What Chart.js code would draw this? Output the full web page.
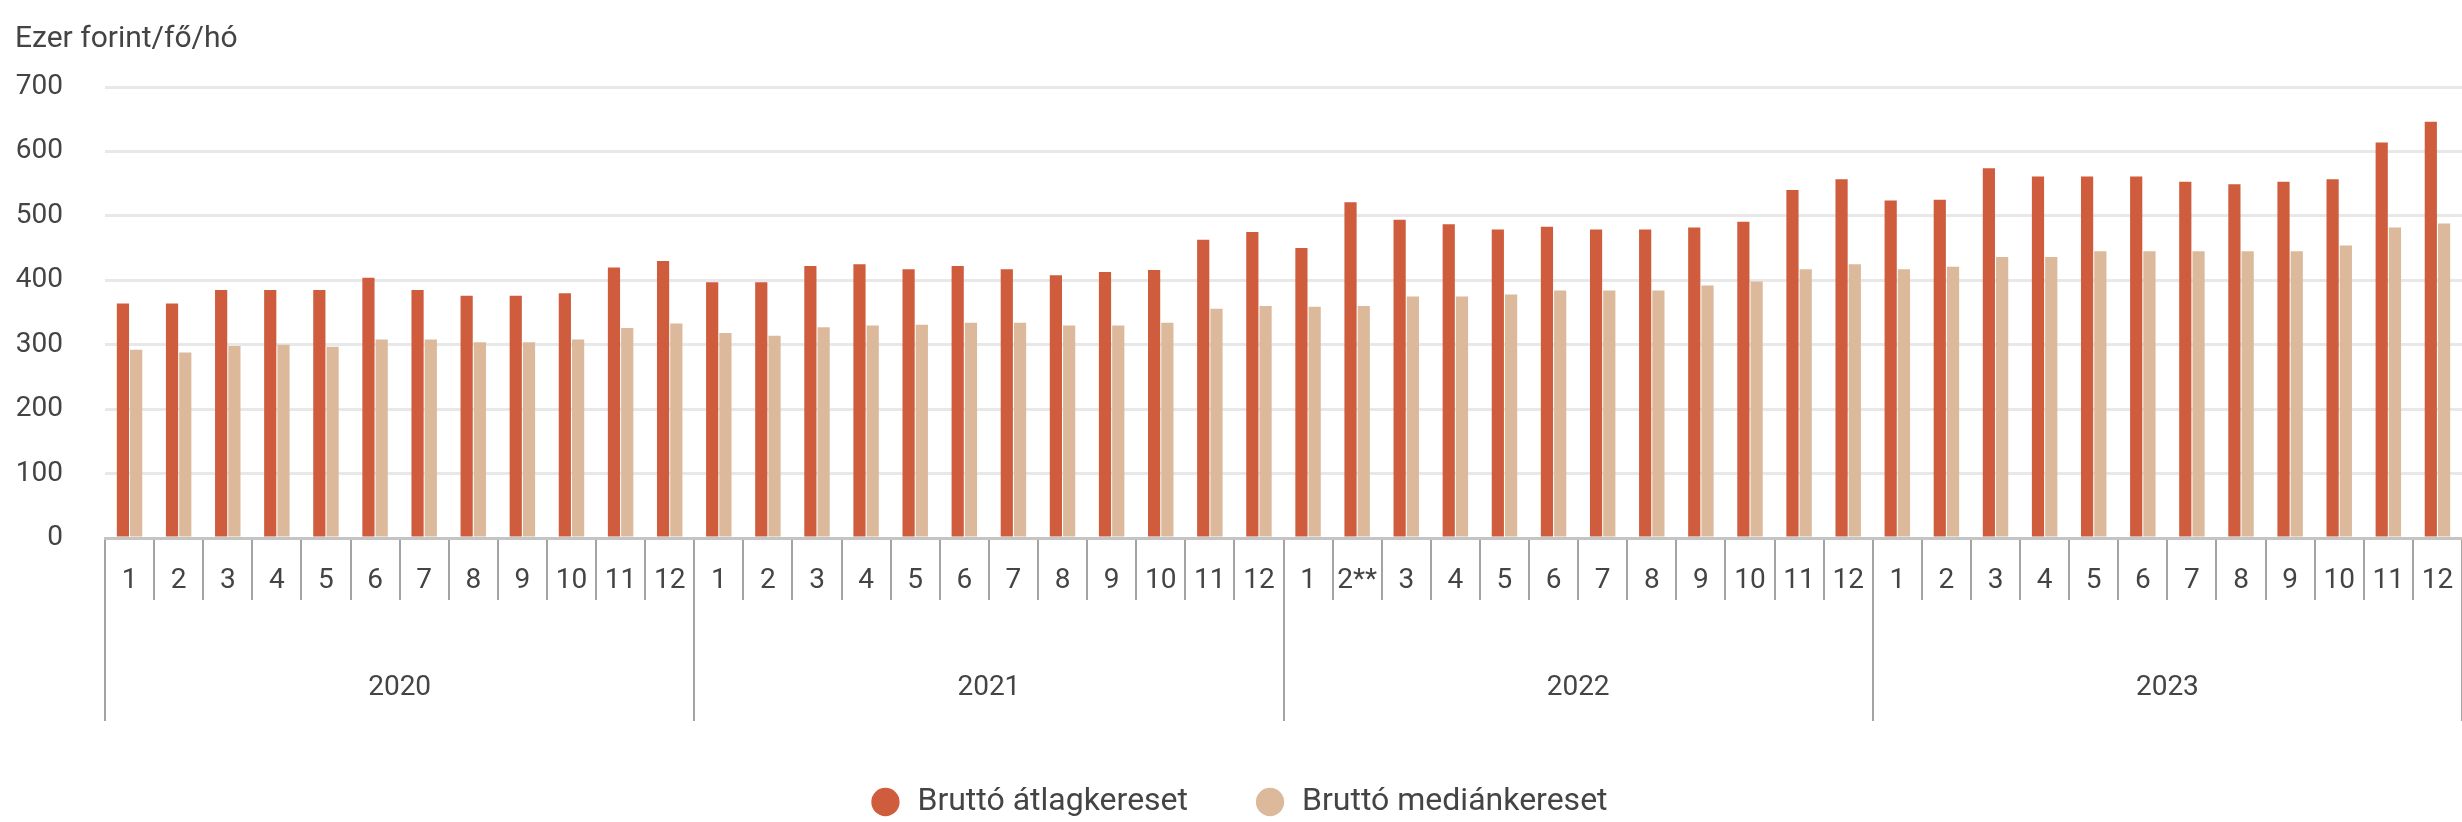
<!DOCTYPE html>
<html lang="hu">
<head>
<meta charset="utf-8">
<title>Bruttó átlag- és mediánkereset</title>
<script src="https://cdn.jsdelivr.net/npm/chart.js@4.4.1/dist/chart.umd.min.js"></script>
<style>
  html, body { margin: 0; padding: 0; background: #fff; overflow: hidden; }
  #wrap { width: 2462px; height: 822px; overflow: hidden; }
</style>
</head>
<body>
<div id="wrap"><canvas id="earningsChart" width="2462" height="828"></canvas></div>
<script>
const years = ['2020', '2021', '2022', '2023'];

const months = [
  '1', '2', '3', '4', '5', '6', '7', '8', '9', '10', '11', '12',
  '1', '2', '3', '4', '5', '6', '7', '8', '9', '10', '11', '12',
  '1', '2**', '3', '4', '5', '6', '7', '8', '9', '10', '11', '12',
  '1', '2', '3', '4', '5', '6', '7', '8', '9', '10', '11', '12'
];

// ezer forint / fő / hó
const grossAverage = [
  364, 364, 385, 385, 385, 404, 385, 376, 376, 380, 420, 430,
  397, 397, 422, 425, 417, 422, 417, 408, 413, 416, 463, 475,
  450, 521, 494, 487, 479, 483, 479, 479, 482, 491, 540, 557,
  524, 525, 574, 561, 561, 561, 553, 549, 553, 557, 614, 646
];

const grossMedian = [
  292, 288, 298, 300, 297, 308, 308, 304, 304, 308, 326, 333,
  318, 314, 327, 330, 331, 334, 334, 330, 330, 334, 356, 360,
  359, 360, 375, 375, 378, 384, 384, 384, 392, 398, 417, 425,
  417, 421, 436, 436, 445, 445, 445, 445, 445, 454, 482, 488
];

const yTicks = [0, 100, 200, 300, 400, 500, 600, 700];

const FONT = 'Roboto, "Noto Sans", sans-serif';
const TEXT = '#444';
const DIVIDER = '#a3a3a3';

const initChart = () => {
  const ctx = document.querySelector('#earningsChart');

  new Chart(ctx, {
    type: 'bar',
    data: {
      labels: months,
      datasets: [
        {
          label: 'Bruttó átlagkereset',
          data: grossAverage,
          backgroundColor: '#cf5d3d',
          categoryPercentage: 0.54,
          barPercentage: 0.92
        },
        {
          label: 'Bruttó mediánkereset',
          data: grossMedian,
          backgroundColor: '#dcb99b',
          categoryPercentage: 0.54,
          barPercentage: 0.92
        }
      ]
    },
    options: {
      responsive: false,
      animation: false,
      layout: { padding: { left: 15, right: 0, top: 0, bottom: 0 } },
      plugins: {
        tooltip: { enabled: false },
        title: {
          display: true,
          text: 'Ezer forint/fő/hó',
          align: 'start',
          color: TEXT,
          font: { family: FONT, size: 30, weight: 'normal' },
          padding: { top: 21, bottom: 30 }
        },
        legend: {
          position: 'bottom',
          labels: {
            usePointStyle: true,
            pointStyle: 'circle',
            boxHeight: 20,
            boxWidth: 32,
            padding: 66,
            color: TEXT,
            font: { family: FONT, size: 32 }
          }
        }
      },
      scales: {
        x: {
          offset: true,
          grid: {
            offset: true,
            drawOnChartArea: false,
            tickLength: 62,
            color: DIVIDER,
            lineWidth: 2
          },
          border: { display: true, color: '#c4c4c4', width: 3 },
          ticks: {
            autoSkip: false,
            maxRotation: 0,
            padding: -36,
            color: TEXT,
            font: { family: FONT, size: 28 }
          },
          afterFit: (scale) => { scale.height = 62; }
        },
        x2: {
          type: 'category',
          position: 'bottom',
          labels: years,
          offset: true,
          grid: {
            offset: true,
            drawOnChartArea: false,
            tickLength: 121,
            color: DIVIDER,
            lineWidth: 2
          },
          border: { display: false },
          ticks: {
            maxRotation: 0,
            padding: -50,
            color: TEXT,
            font: { family: FONT, size: 28 }
          },
          afterFit: (scale) => { scale.height = 120; }
        },
        y: {
          min: 0,
          max: 700,
          afterBuildTicks: (scale) => {
            scale.ticks = yTicks.map((value) => ({ value }));
          },
          grid: {
            drawTicks: false,
            color: (c) => (c.tick && c.tick.value === 0 ? '#c4c4c4' : '#e8e8e8'),
            lineWidth: 3
          },
          border: { display: false },
          ticks: {
            padding: 42,
            color: TEXT,
            font: { family: FONT, size: 28 }
          },
          afterFit: (scale) => { scale.width = 90; }
        }
      }
    }
  });
};

document.addEventListener('DOMContentLoaded', initChart);
</script>
</body>
</html>
